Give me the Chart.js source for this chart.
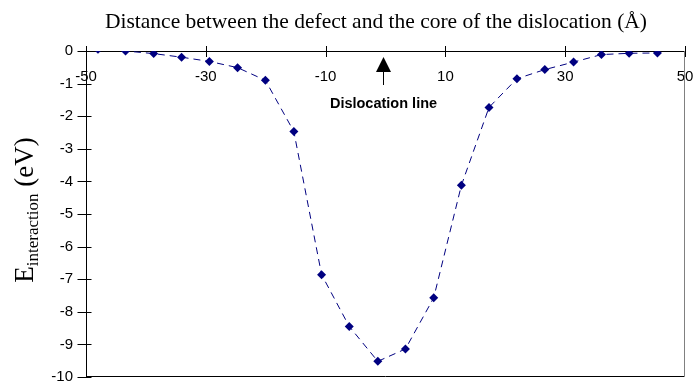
<!DOCTYPE html>
<html>
<head>
<meta charset="utf-8">
<script src="https://cdn.jsdelivr.net/npm/chart.js@4.4.1/dist/chart.umd.min.js"></script>
<style>
  html, body { margin: 0; padding: 0; background: #fff; }
  canvas { display: block; }
</style>
</head>
<body>
<canvas id="myChart" width="693" height="383"></canvas>
<script>
// interaction energy vs distance from the dislocation core

const distances = [-48, -43.4, -38.7, -34.05, -29.4, -24.7, -20.05, -15.3, -10.67, -6.05, -1.28,
                   3.33, 8.05, 12.67, 17.28, 21.94, 26.6, 31.4, 36.05, 40.67, 45.4];
const energies = [0.05, 0, -0.08, -0.19, -0.32, -0.51, -0.9, -2.47, -6.86, -8.45, -9.52,
                  -9.14, -7.57, -4.12, -1.73, -0.85, -0.57, -0.34, -0.11, -0.07, -0.06];
const xTicks = [-50, -30, -10, 10, 30, 50];
const yTicks = [0, -1, -2, -3, -4, -5, -6, -7, -8, -9, -10];
const dislocationAt = -0.5;

const ctx = document.getElementById('myChart').getContext('2d');

const points = distances.map((d, i) => ({ x: d, y: energies[i] }));

// cross-shaped tick marks, frame lines, arrow and the text around the plot
const decorations = {
  id: 'decorations',
  afterDraw(chart) {
    const c = chart.ctx;
    const area = chart.chartArea;
    const xs = chart.scales.x;
    const ys = chart.scales.y;
    const y0 = ys.getPixelForValue(0);
    const xLeft = Math.round(area.left) + 0.5;

    c.save();
    c.strokeStyle = '#000';
    c.lineWidth = 1;
    c.beginPath();
    xTicks.forEach(v => {
      const px = Math.round(xs.getPixelForValue(v)) + 0.5;
      c.moveTo(px, y0 - 5);
      c.lineTo(px, y0 + 6);
    });
    yTicks.forEach(v => {
      const py = Math.round(ys.getPixelForValue(v)) + 0.5;
      c.moveTo(xLeft - 9, py);
      c.lineTo(xLeft + 5, py);
    });
    c.stroke();

    // bottom and right edges of the plot
    c.beginPath();
    c.moveTo(area.left, Math.round(area.bottom) - 0.5);
    c.lineTo(area.right, Math.round(area.bottom) - 0.5);
    c.stroke();
    c.strokeStyle = '#808080';
    c.beginPath();
    c.moveTo(Math.round(area.right) - 0.5, area.top);
    c.lineTo(Math.round(area.right) - 0.5, area.bottom);
    c.stroke();

    // dislocation arrow
    const ax = Math.round(xs.getPixelForValue(dislocationAt)) + 0.5;
    c.fillStyle = '#000';
    c.strokeStyle = '#000';
    c.beginPath();
    c.moveTo(ax, y0 + 6);
    c.lineTo(ax + 7.5, y0 + 21);
    c.lineTo(ax - 7.5, y0 + 21);
    c.closePath();
    c.fill();
    c.beginPath();
    c.moveTo(ax, y0 + 21);
    c.lineTo(ax, y0 + 34);
    c.stroke();

    c.font = 'bold 14.5px "Liberation Sans", Arial, sans-serif';
    c.textAlign = 'center';
    c.textBaseline = 'alphabetic';
    c.fillText('Dislocation line', ax, y0 + 57);

    // title
    c.font = '21.5px "Liberation Serif", "Times New Roman", serif';
    c.fillText('Distance between the defect and the core of the dislocation (Å)', 376, 28);

    // y axis title with subscript
    c.translate(33, 210);
    c.rotate(-Math.PI / 2);
    c.textAlign = 'left';
    const big = '27px "Liberation Serif", "Times New Roman", serif';
    const small = '17px "Liberation Serif", "Times New Roman", serif';
    c.font = big;
    const wE = c.measureText('E').width;
    const wUnit = c.measureText(' (eV)').width;
    c.font = small;
    const wSub = c.measureText('interaction').width;
    let tx = -(wE + wSub + wUnit) / 2;
    c.font = big;
    c.fillText('E', tx, 0);
    tx += wE;
    c.font = small;
    c.fillText('interaction', tx, 5);
    tx += wSub;
    c.font = big;
    c.fillText(' (eV)', tx, 0);
    c.restore();
  }
};

const tickFont = { family: '"Liberation Sans", Arial, sans-serif', size: 15 };

const myChart = new Chart(ctx, {
  type: 'scatter',
  data: {
    datasets: [{
      data: points,
      showLine: true,
      borderColor: '#000080',
      borderWidth: 1,
      borderDash: [7, 5],
      pointStyle: 'rectRot',
      pointRadius: 4.5,
      pointBackgroundColor: '#000080',
      pointBorderWidth: 0,
      tension: 0
    }]
  },
  options: {
    responsive: false,
    animation: false,
    devicePixelRatio: 1,
    layout: { padding: { left: 40, top: 51, right: 8, bottom: 6 } },
    plugins: {
      legend: { display: false },
      tooltip: { enabled: false }
    },
    scales: {
      x: {
        type: 'linear',
        position: { y: 0 },
        min: -50,
        max: 50,
        afterFit: s => {
          s.height = 0;
          s.paddingLeft = 0;
          s.paddingRight = 0;
          s.paddingTop = 0;
          s.paddingBottom = 0;
        },
        ticks: {
          stepSize: 20,
          color: '#000',
          font: tickFont,
          padding: 17,
          maxRotation: 0
        },
        grid: { display: true, drawOnChartArea: false, drawTicks: false },
        border: { display: true, color: '#000', width: 1 }
      },
      y: {
        type: 'linear',
        position: 'left',
        min: -10,
        max: 0,
        afterFit: s => {
          s.width = 46;
          s.paddingTop = 0;
          s.paddingBottom = 0;
          s.paddingLeft = 0;
          s.paddingRight = 0;
        },
        ticks: {
          stepSize: 1,
          color: '#000',
          font: tickFont,
          padding: 13
        },
        grid: { display: true, drawOnChartArea: false, drawTicks: false },
        border: { display: true, color: '#000', width: 1 }
      }
    }
  },
  plugins: [decorations]
});
</script>
</body>
</html>
